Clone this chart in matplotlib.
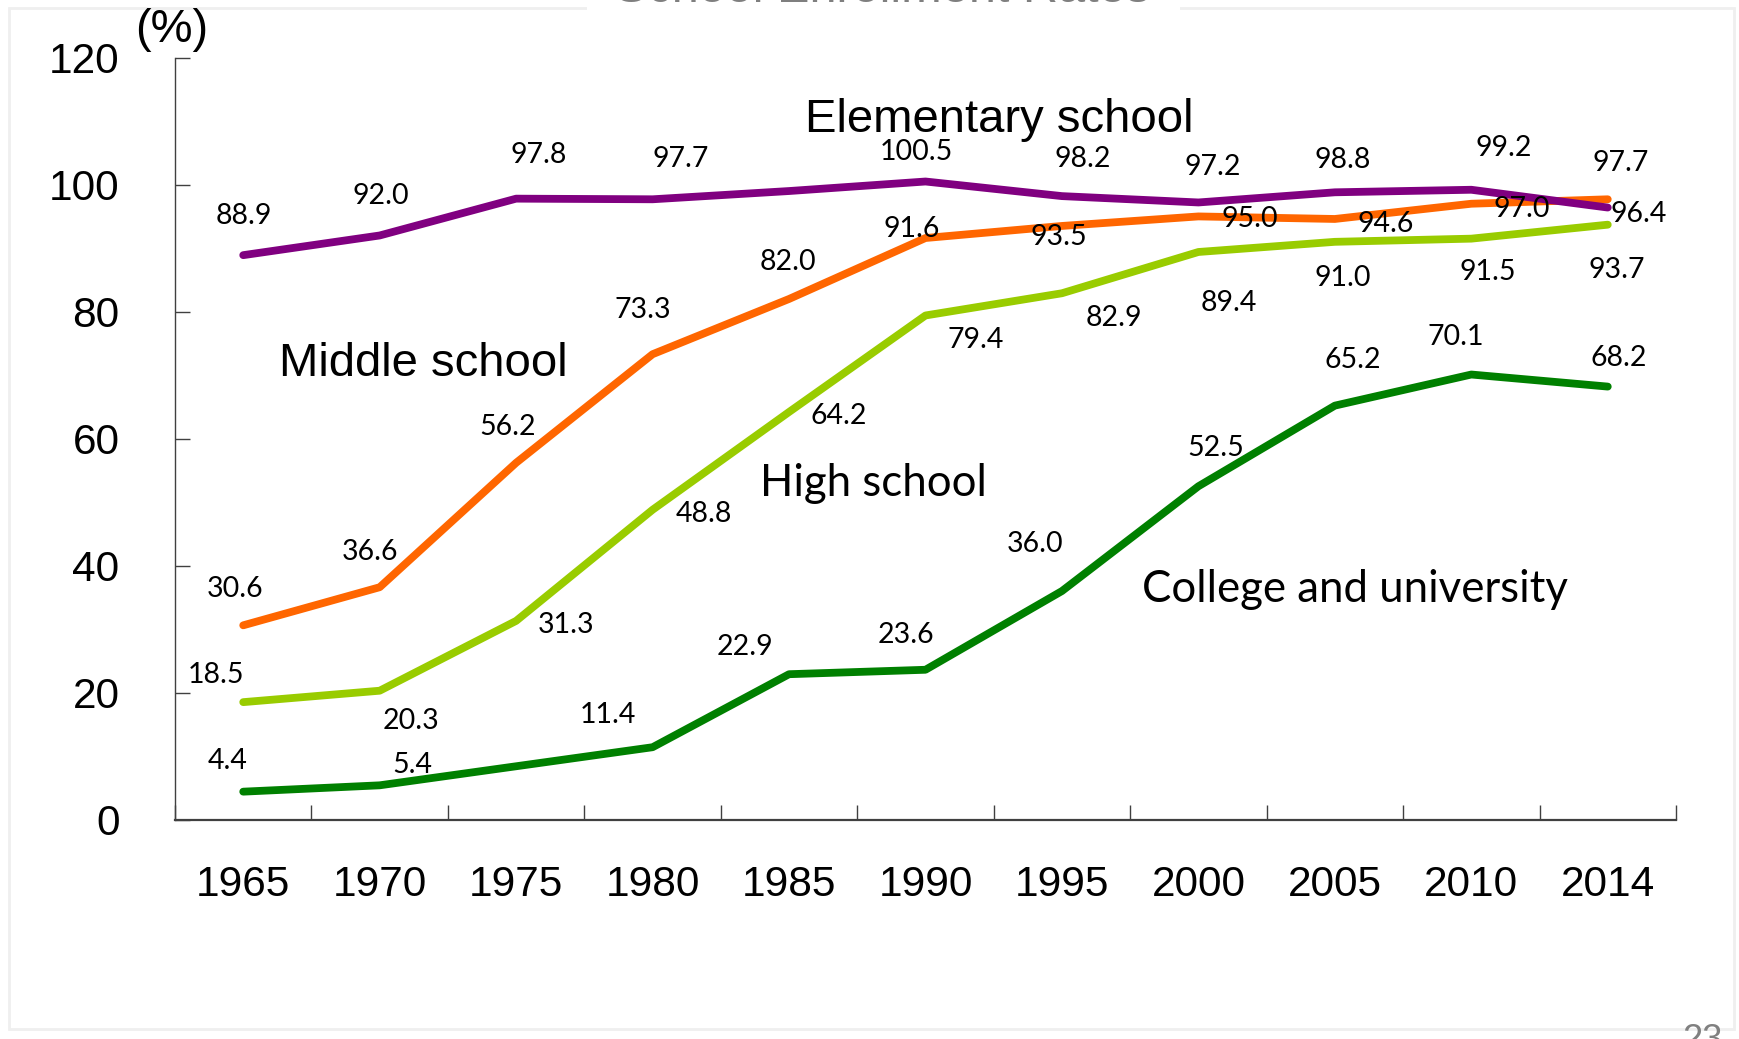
import matplotlib
matplotlib.use("Agg")
import matplotlib.pyplot as plt
from matplotlib.patches import Rectangle

# Enrollment rates by school level (%)
years = ["1965", "1970", "1975", "1980", "1985", "1990",
         "1995", "2000", "2005", "2010", "2014"]
elementary = [88.9, 92.0, 97.8, 97.7, 99.0, 100.5, 98.2, 97.2, 98.8, 99.2, 96.4]
middle = [30.6, 36.6, 56.2, 73.3, 82.0, 91.6, 93.5, 95.0, 94.6, 97.0, 97.7]
high = [18.5, 20.3, 31.3, 48.8, 64.2, 79.4, 82.9, 89.4, 91.0, 91.5, 93.7]
college = [4.4, 5.4, 8.4, 11.4, 22.9, 23.6, 36.0, 52.5, 65.2, 70.1, 68.2]
yticks = [0, 20, 40, 60, 80, 100, 120]

# value-label placement (pixel offsets from each point; None = no label)
elem_off = [(1, 42), (1, 42), (23, 47), (28, 43), None, (-9, 33), (21, 40),
            (14, 38), (8, 35), (32, 45), (31, -3)]
mid_off = [(-8, 39), (-10, 38), (-8, 39), (-10, 47), (-1, 40), (-14, 12),
           (-3, -8), (51, 0), (51, -2), (50, -2), (13, 39)]
high_off = [(-27, 30), (31, -27), (50, -1), (51, -1), (50, -1), (50, -22),
            (52, -22), (30, -48), (8, -33), (16, -30), (9, -42)]
coll_off = [(-16, 34), (33, 23), None, (-45, 35), (-44, 30), (-20, 38),
            (-27, 50), (17, 41), (18, 49), (-16, 41), (11, 32)]
LABEL_SHIFT = -3  # small downward nudge so digit bodies sit centred

ARIAL = "Liberation Sans"
CALIBRI = "Lato"

fig = plt.figure(figsize=(17.39, 10.39), dpi=100)
fig.patch.set_facecolor("white")

# slide frame and title strip
fig.patches.append(Rectangle((9 / 1739, 1 - 1029 / 1039), (1734 - 9) / 1739, (1029 - 8) / 1039,
                             transform=fig.transFigure, fill=False,
                             edgecolor="#efefef", lw=2, zorder=0))
fig.patches.append(Rectangle((587 / 1739, 1 - 20 / 1039), (1180 - 587) / 1739, 20 / 1039,
                             transform=fig.transFigure, facecolor="white",
                             edgecolor="none", zorder=1))
fig.text(883 / 1739, 1 - 1.5 / 1039, "School Enrollment Rates", ha="center",
         va="baseline", fontsize=35, family=ARIAL, color="#7f7f7f", zorder=2)
fig.text(1702 / 1739, 1 - 1023 / 1039, "23", ha="center", va="top",
         fontsize=26, family=ARIAL, color="#808080")

ax = fig.add_axes([175 / 1739, 1 - 819.6 / 1039, (1676 - 175) / 1739, (819.6 - 57.7) / 1039])
x = list(range(len(years)))

series = [
    (college, "#008000", coll_off),
    (high, "#99CC00", high_off),
    (middle, "#FF6600", mid_off),
    (elementary, "#800080", elem_off),
]
for vals, col, offs in series:
    ax.plot(x, vals, color=col, lw=5.6, solid_capstyle="round",
            solid_joinstyle="round", zorder=3)
    for xi, v, off in zip(x, vals, offs):
        if off is None:
            continue
        ax.annotate(f"{v:.1f}", (xi, v), xytext=(off[0], off[1] + LABEL_SHIFT),
                    textcoords="offset pixels", ha="center", va="center",
                    fontsize=20.5, family=CALIBRI, color="black", zorder=5)

# series names
ax.text(5.54, 110.2, "Elementary school", ha="center", va="center",
        fontsize=34, family=ARIAL, zorder=5)
ax.text(1.32, 71.8, "Middle school", ha="center", va="center",
        fontsize=34, family=ARIAL, zorder=5)
ax.text(4.62, 52.9, "High school", ha="center", va="center",
        fontsize=31.5, family=CALIBRI, zorder=5)
ax.text(8.15, 36.2, "College and university", ha="center", va="center",
        fontsize=31.5, family=CALIBRI, zorder=5)
fig.text(172 / 1739, 1 - 30 / 1039, "(%)", ha="center", va="center",
         fontsize=34, family=ARIAL)

ax.set_xlim(-0.5, len(years) - 0.5)
ax.set_ylim(0, 120)
ax.set_facecolor("white")

ax.set_yticks(yticks)
ax.set_yticklabels([str(t) for t in yticks], family=ARIAL, fontsize=30.5)
ax.tick_params(axis="y", direction="in", length=11, width=1, color="#404040", pad=40)

ax.set_xticks([i - 0.5 for i in range(len(years) + 1)])
ax.set_xticklabels([])
ax.set_xticks(x, minor=True)
ax.set_xticklabels(years, minor=True, family=ARIAL, fontsize=30.5)
ax.tick_params(axis="x", which="major", direction="in", length=10.5, width=1, color="#404040")
ax.tick_params(axis="x", which="minor", length=0, pad=33)

for s in ["top", "right"]:
    ax.spines[s].set_visible(False)
ax.spines["left"].set_color("#404040")
ax.spines["left"].set_linewidth(1)
ax.spines["bottom"].set_color("#404040")
ax.spines["bottom"].set_linewidth(1.6)

fig.savefig("out.png", dpi=100, facecolor="white")
